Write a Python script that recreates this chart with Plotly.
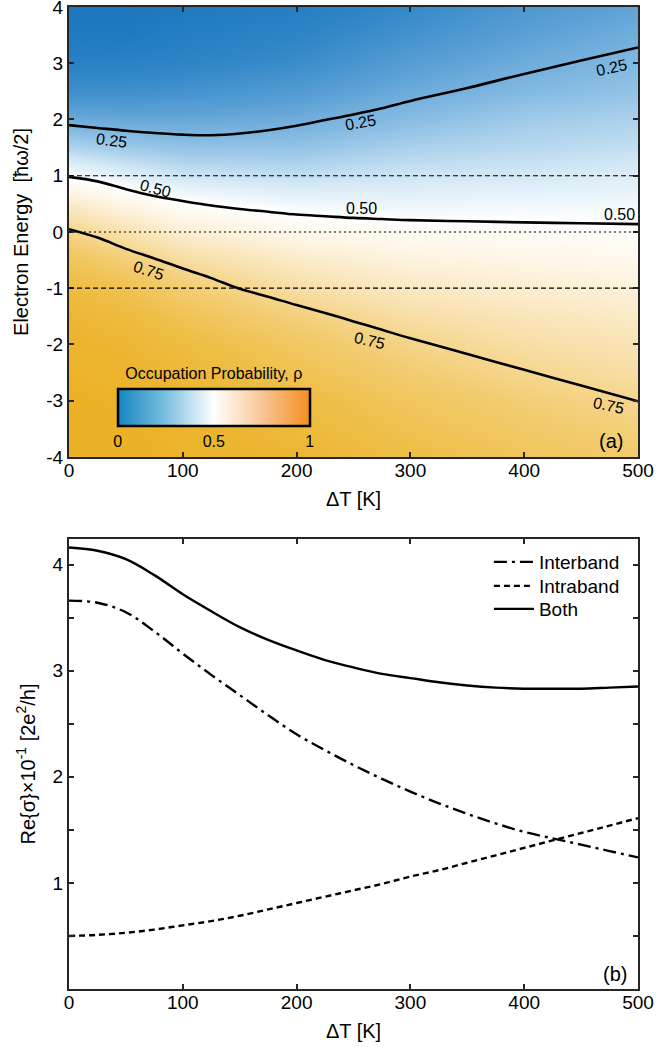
import plotly.graph_objects as go

# ---------------- data: panel (a) ----------------
grid_T = [0, 50, 100, 200, 300, 400, 500]
grid_E = [-4, -3.5, -3, -2.5, -2, -1.5, -1, -0.5, 0, 0.5, 1, 1.5, 2, 2.5, 3, 3.5, 4]
# occupation probability rho (rows: energies, cols: Delta T)
rho_grid = [
    [0.99, 0.99, 0.98, 0.95, 0.90, 0.85, 0.81],
    [0.99, 0.99, 0.97, 0.93, 0.87, 0.82, 0.78],
    [0.99, 0.98, 0.96, 0.91, 0.84, 0.79, 0.75],
    [0.98, 0.97, 0.94, 0.87, 0.80, 0.75, 0.71],
    [0.97, 0.95, 0.91, 0.83, 0.76, 0.71, 0.68],
    [0.95, 0.92, 0.86, 0.78, 0.71, 0.67, 0.64],
    [0.91, 0.87, 0.80, 0.71, 0.65, 0.62, 0.60],
    [0.85, 0.79, 0.72, 0.64, 0.59, 0.57, 0.55],
    [0.76, 0.69, 0.62, 0.55, 0.53, 0.52, 0.51],
    [0.64, 0.57, 0.51, 0.47, 0.46, 0.47, 0.47],
    [0.49, 0.44, 0.40, 0.38, 0.40, 0.41, 0.43],
    [0.35, 0.32, 0.30, 0.30, 0.34, 0.36, 0.38],
    [0.23, 0.22, 0.22, 0.235, 0.28, 0.32, 0.34],
    [0.14, 0.14, 0.15, 0.18, 0.23, 0.27, 0.30],
    [0.085, 0.09, 0.10, 0.13, 0.19, 0.235, 0.27],
    [0.05, 0.05, 0.07, 0.10, 0.15, 0.20, 0.24],
    [0.03, 0.03, 0.045, 0.07, 0.12, 0.17, 0.21],
]

contour_T = [0, 25, 50, 75, 100, 125, 150, 175, 200, 225, 250, 275, 300, 350, 400, 450, 500]
contour_025 = [1.90, 1.85, 1.80, 1.76, 1.73, 1.72, 1.75, 1.81, 1.89, 1.99, 2.09, 2.20, 2.33, 2.56, 2.81, 3.05, 3.28]
contour_050 = [0.98, 0.90, 0.76, 0.64, 0.55, 0.47, 0.41, 0.36, 0.31, 0.28, 0.25, 0.23, 0.21, 0.19, 0.17, 0.155, 0.14]
contour_075 = [0.05, -0.10, -0.30, -0.47, -0.65, -0.82, -1.01, -1.15, -1.30, -1.44, -1.59, -1.74, -1.89, -2.17, -2.45, -2.73, -3.01]
contour_levels = ["0.25", "0.50", "0.75"]

dashed_levels = [1, -1]
dotted_levels = [0]

# ---------------- data: panel (b) ----------------
dT = [0, 25, 50, 75, 100, 125, 150, 175, 200, 225, 250, 275, 300, 325, 350, 375, 400, 425, 450, 475, 500]
interband = [3.66, 3.64, 3.55, 3.37, 3.16, 2.96, 2.77, 2.58, 2.40, 2.25, 2.11, 1.98, 1.86, 1.75, 1.65,
             1.56, 1.48, 1.42, 1.36, 1.30, 1.24]
intraband = [0.50, 0.51, 0.53, 0.56, 0.60, 0.64, 0.69, 0.75, 0.81, 0.87, 0.93, 0.99, 1.06, 1.12, 1.19,
             1.26, 1.33, 1.40, 1.47, 1.54, 1.61]
both = [4.16, 4.13, 4.05, 3.90, 3.72, 3.56, 3.41, 3.29, 3.19, 3.10, 3.03, 2.97, 2.93, 2.89, 2.86,
        2.84, 2.83, 2.83, 2.83, 2.84, 2.85]
series_names = ["Interband", "Intraband", "Both"]

x_ticks = [0, 100, 200, 300, 400, 500]
e_ticks = [-4, -3, -2, -1, 0, 1, 2, 3, 4]
e_ticktext = ["-4", "-3", "-2", "-1", "0", "1", "2", "3", "4"]
s_ticks = [0.5, 1, 1.5, 2, 2.5, 3, 3.5, 4]
s_ticktext = ["", "1", "", "2", "", "3", "", "4"]

FONT = "Liberation Sans, Arial, Helvetica, sans-serif"
AX = "#262626"

heat_scale = [
    [0.00, "#1570b9"], [0.10, "#2d84c6"], [0.20, "#5ba0d5"], [0.30, "#93c3e6"],
    [0.40, "#d0e6f5"], [0.50, "#ffffff"], [0.60, "#fdf1da"], [0.70, "#f8e0ab"],
    [0.80, "#f3cc70"], [0.90, "#eebd44"], [1.00, "#ebb024"],
]
inset_scale = [[0.0, "#1487c2"], [0.25, "#7cc0e0"], [0.5, "#ffffff"], [0.75, "#f8c596"], [1.0, "#f3901f"]]

fig = go.Figure()

fig.add_trace(go.Heatmap(
    x=grid_T, y=grid_E, z=rho_grid, zmin=0, zmax=1, zsmooth="best",
    colorscale=heat_scale, showscale=False, hoverinfo="skip",
    xaxis="x", yaxis="y",
))

for cy in (contour_025, contour_050, contour_075):
    fig.add_trace(go.Scatter(
        x=contour_T, y=cy, mode="lines", line=dict(color="black", width=2.6, shape="spline"),
        showlegend=False, hoverinfo="skip", xaxis="x", yaxis="y",
    ))

# inset colour bar (Occupation Probability)
fig.add_trace(go.Scatter(
    x=[None], y=[None], mode="markers", showlegend=False, xaxis="x", yaxis="y",
    marker=dict(
        color=[0.5], cmin=0, cmax=1, colorscale=inset_scale, showscale=True,
        colorbar=dict(
            orientation="h", x=0.2545, xanchor="center", y=0.628, yanchor="top",
            len=192, lenmode="pixels", thickness=37, thicknessmode="pixels",
            outlinewidth=2.5, outlinecolor="black", xpad=0, ypad=0,
            tickvals=[0, 0.5, 1], ticktext=["0", "0.5", "1"], ticks="",
            tickfont=dict(family=FONT, size=16, color="black"),
            title=dict(text="Occupation Probability, ρ", side="top",
                       font=dict(family=FONT, size=16, color="black")),
            bgcolor="rgba(0,0,0,0)", borderwidth=0,
        ),
    ),
))

# panel (b) curves, each with its own legend row
styles = [dict(dash="13px,5px,3px,5px"), dict(dash="6px,4px"), dict(dash="solid")]
legend_ids = ["legend", "legend2", "legend3"]
for name, ys, st, lg in zip(series_names, (interband, intraband, both), styles, legend_ids):
    fig.add_trace(go.Scatter(x=dT, y=ys, mode="lines", name=name, legend=lg,
                             line=dict(color="black", width=2.4, shape="spline", **st),
                             xaxis="x2", yaxis="y2"))

# reference lines in panel (a)
shapes = []
for lv in dashed_levels:
    shapes.append(dict(type="line", xref="x domain", yref="y", x0=0, x1=1, y0=lv, y1=lv,
                       line=dict(color="black", width=1.2, dash="5px,3px"), layer="above"))
for lv in dotted_levels:
    shapes.append(dict(type="line", xref="x domain", yref="y", x0=0, x1=1, y0=lv, y1=lv,
                       line=dict(color="black", width=1.2, dash="2px,3px"), layer="above"))

# contour labels
label_specs = [
    (contour_levels[0], 37, 1.62, 7), (contour_levels[0], 256, 1.94, -10), (contour_levels[0], 477, 2.92, -12),
    (contour_levels[1], 76, 0.78, 15), (contour_levels[1], 257, 0.41, 0), (contour_levels[1], 484, 0.31, 0),
    (contour_levels[2], 70, -0.69, 18), (contour_levels[2], 264, -1.93, 13), (contour_levels[2], 474, -3.09, 12),
]
annotations = []
for txt, lx, ly, ang in label_specs:
    annotations.append(dict(text=txt, x=lx, y=ly, xref="x", yref="y", showarrow=False, textangle=ang,
                            font=dict(family=FONT, size=16, color="black")))
annotations.append(dict(text="(a)", x=476, y=-3.72, xref="x", yref="y", showarrow=False,
                        font=dict(family=FONT, size=20, color="black")))
annotations.append(dict(text="(b)", x=480, y=0.14, xref="x2", yref="y2", showarrow=False,
                        font=dict(family=FONT, size=20, color="black")))

axis_common = dict(showline=True, linewidth=2, linecolor=AX, mirror="ticks", ticks="inside",
                   ticklen=5, tickwidth=1.5, tickcolor=AX, showgrid=False, zeroline=False,
                   automargin=False, ticklabeloverflow="allow",
                   tickfont=dict(family=FONT, size=19, color="black"))

legend_common = dict(x=0.738, xanchor="left", yanchor="top", bgcolor="rgba(0,0,0,0)",
                     font=dict(family=FONT, size=19, color="black"), itemwidth=40)

fig.update_layout(
    width=656, height=1047,
    margin=dict(l=69, r=18, t=7, b=58, autoexpand=False),
    paper_bgcolor="white", plot_bgcolor="white",
    font=dict(family=FONT, color="black"),
    xaxis=dict(domain=[0, 1], anchor="y", range=[0, 500], tickvals=x_ticks, ticklabelstandoff=-5,
               title=dict(text="ΔT [K]", font=dict(family=FONT, size=20), standoff=12), **axis_common),
    yaxis=dict(domain=[0.5418, 1], anchor="x", range=[-4, 4], tickvals=e_ticks, ticktext=e_ticktext,
               title=dict(text="Electron Energy  [ħω/2]", font=dict(family=FONT, size=20), standoff=12),
               **axis_common),
    xaxis2=dict(domain=[0, 1], anchor="y2", range=[0, 500], tickvals=x_ticks, ticklabelstandoff=-5,
                title=dict(text="ΔT [K]", font=dict(family=FONT, size=20), standoff=12), **axis_common),
    yaxis2=dict(domain=[0, 0.4582], anchor="x2", range=[0, 4.24], tickvals=s_ticks, ticktext=s_ticktext,
                title=dict(text="Re{σ}×10<sup>-1</sup> [2e<sup>2</sup>/h]", font=dict(family=FONT, size=20),
                           standoff=12),
                **axis_common),
    legend=dict(y=0.4542, **legend_common),
    legend2=dict(y=0.4297, **legend_common),
    legend3=dict(y=0.4063, **legend_common),
    shapes=shapes,
    annotations=annotations,
)

fig.write_html("out.html", config={"displayModeBar": False},
               post_script="document.body.style.margin='0';document.body.style.overflow='hidden';")
